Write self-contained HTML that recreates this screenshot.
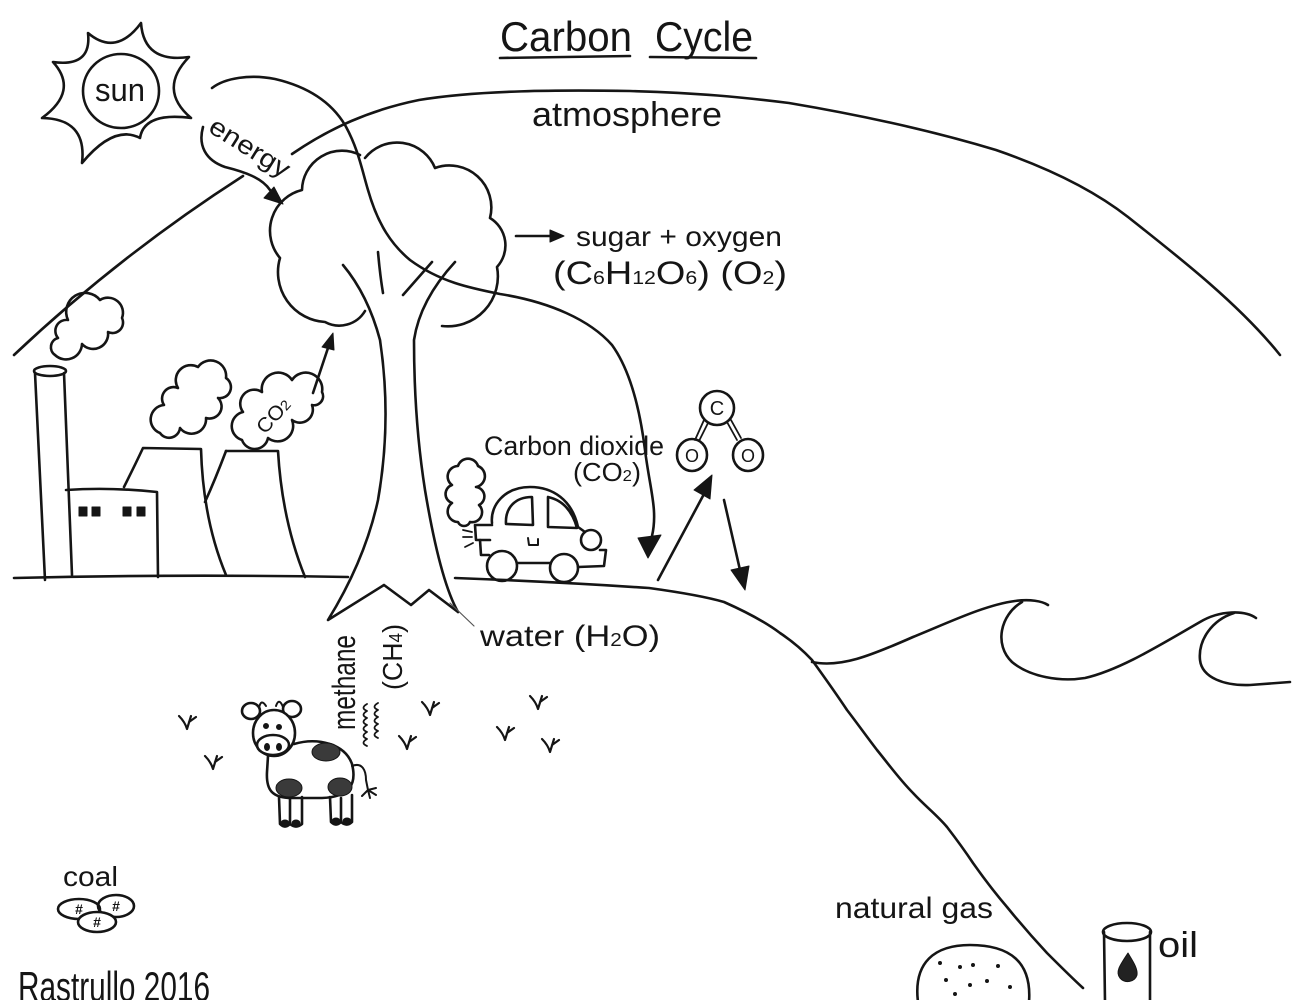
<!DOCTYPE html>
<html><head><meta charset="utf-8"><style>
html,body{margin:0;padding:0;background:#fff}
svg{display:block}
text{font-family:"Liberation Sans",sans-serif;fill:#151515}
</style></head><body>
<svg width="1294" height="1000" viewBox="0 0 1294 1000" xmlns="http://www.w3.org/2000/svg">
<rect width="1294" height="1000" fill="#fff"/>
<g fill="none" stroke="#151515" stroke-width="2.6" stroke-linecap="round" stroke-linejoin="round">
<!-- sun -->
<path d="M141,23 Q143.9,63.4 189,57 Q157.6,89.5 191,118 Q144.1,111.8 140,138 Q114.2,124.2 82,163 Q87.2,118.7 42,118 Q79.2,90.9 53,62 Q91.9,67.5 88,33 Q116.1,56.8 141,23 Z"/>
<ellipse cx="121" cy="91" rx="38" ry="37"/>
<!-- title underlines -->
<path d="M500,58 L630,56"/>
<path d="M650,57 L756,58"/>
<!-- atmosphere arc -->
<path d="M14,355 Q120,255 243,176"/>
<path d="M292,154 C330,128 370,110 419,100 C480,90 560,90 630,91 C700,93 740,97 789,103 C860,115 930,130 996,150 C1060,172 1100,195 1128,217 C1180,258 1240,305 1280,355"/>
<!-- big carbon flow arrow -->
<path d="M212,88 C225,78 250,74 275,79 C305,86 330,100 345,125 C358,148 362,170 368,190 C378,225 392,245 410,260 C440,282 470,288 500,294 C550,302 590,320 612,345 C630,370 640,410 645,450 C650,490 658,510 652,536"/>
<!-- energy bracket -->
<path d="M203,127 C198,145 205,160 225,167 C245,172 262,178 270,190"/>
<!-- canopy -->
<path d="M365,311 A30,30 0 0 1 325,322 A50,50 0 0 1 280,258 A42,42 0 0 1 302,190 A40,40 0 0 1 360,155"/>
<path d="M365,158 A41,41 0 0 1 435,168 A42,42 0 0 1 490,218 A32,32 0 0 1 497,267 A50,50 0 0 1 442,326"/>
<!-- trunk -->
<path d="M343,265 Q368,295 380,340 Q392,420 378,500 Q365,560 328,620 L384,585 L411,605 L429,590 L458,612"/>
<path d="M455,262 Q420,300 414,340 Q414,420 425,490 Q440,580 458,612"/>
<path d="M378,252 Q380,275 383,293"/>
<path d="M432,262 L403,295"/>
<path d="M450,603 L474,626" stroke-width="1.2" stroke="#555"/>
<!-- sugar arrow -->
<path d="M516,236 L552,236"/>
<!-- factory -->
<ellipse cx="50" cy="371" rx="16" ry="5"/>
<path d="M35,373 L45,580"/>
<path d="M64,373 L72,575"/>
<path d="M66,490 Q110,487 157,492 L158,577"/>
<path d="M124,487 Q135,465 143,448 L201,449 Q203,520 226,575"/>
<path d="M226,451 L278,451 Q282,520 305,577"/>
<path d="M226,451 Q215,480 205,502"/>
<path d="M14,578 Q180,574 348,577"/>
<!-- smoke clouds -->
<path d="M55,355 A9.5,9.5 0 0 1 58,338 A11,11 0 0 1 68,320 A19,19 0 0 1 100,300 A15,15 0 0 1 122,318 A10.5,10.5 0 0 1 108,332 A15,15 0 0 1 82,344 A16,16 0 0 1 55,355 Z"/>
<path d="M160,433 A14.5,14.5 0 0 1 164,405 A11.5,11.5 0 0 1 178,388 A15,15 0 0 1 198,367 A15.5,15.5 0 0 1 226,378 A11,11 0 0 1 218,398 A12,12 0 0 1 206,418 A14.5,14.5 0 0 1 180,428 A11,11 0 0 1 160,433 Z"/>
<path d="M242,440 A14.5,14.5 0 0 1 243,412 A14,14 0 0 1 262,392 A16.5,16.5 0 0 1 292,380 A16.5,16.5 0 0 1 322,392 A9,9 0 0 1 312,405 A13,13 0 0 1 292,420 A15.5,15.5 0 0 1 268,438 A13.5,13.5 0 0 1 242,440 Z"/>
<path d="M313,393 L328,348"/>
<!-- car cloud -->
<path d="M458,522 A10.5,10.5 0 0 1 452,503 A9.5,9.5 0 0 1 452,485 A10.5,10.5 0 0 1 458,466 A10.5,10.5 0 0 1 478,466 A11,11 0 0 1 476,487 A9.5,9.5 0 0 1 479,505 A10,10 0 0 1 470,522 A6.5,6.5 0 0 1 458,522 Z"/>
<!-- car -->
<path d="M492,523 C490,505 505,487 530,487 C553,487 572,500 578,527 L585,532"/>
<path d="M506,524 C505,508 515,497 532,497 L533,525 Z"/>
<path d="M548,497 L548,527 L577,528 C572,510 562,500 548,497 Z"/>
<path d="M492,525 L475,525 L476,540 L490,540"/>
<path d="M480,540 L481,555 L489,555"/>
<circle cx="591" cy="540" r="10"/>
<path d="M600,550 L606,550 L604,566 L578,567"/>
<path d="M517,563 L550,563"/>
<circle cx="502" cy="566" r="15"/>
<circle cx="564" cy="568" r="14"/>
<path d="M528,538 L529,545 L538,545 L538,539" stroke-width="2"/>
<path d="M463,530 L472,532 M463,537 L472,537 M465,547 L473,543" stroke-width="1.8"/>
<!-- right ground / hill -->
<path d="M455,578 Q560,582 649,588 Q700,595 724,602 Q760,618 780,633 Q798,645 812,660 C825,678 837,695 847,710 C857,723 867,737 877,750 C890,766 900,780 913,793 C925,806 937,815 947,827 C957,840 965,851 973,863 C985,880 995,893 1007,907 C1020,923 1033,938 1047,953 C1060,966 1072,978 1083,988"/>
<!-- waves -->
<path d="M812,662 C840,668 870,656 913,637 C950,622 985,605 1015,601 C1030,599 1042,601 1048,605"/>
<path d="M1022,602 C1000,615 994,645 1012,662 C1030,677 1060,682 1085,678 C1120,670 1160,645 1200,622 C1220,610 1245,610 1256,618"/>
<path d="M1234,613 C1212,620 1198,640 1200,660 C1202,678 1225,686 1250,685 L1290,682"/>
<!-- CO2 molecule -->
<circle cx="717" cy="408" r="17"/>
<ellipse cx="692" cy="455" rx="15" ry="16"/>
<ellipse cx="748" cy="455" rx="15" ry="16"/>
<path d="M704,420 L695,440 M708,423 L699,441" stroke-width="1.8"/>
<path d="M727,422 L737,440 M731,420 L741,438" stroke-width="1.8"/>
<!-- molecule arrows -->
<path d="M658,580 L704,494"/>
<path d="M724,500 L740,570"/>
<!-- methane squiggles -->
<path d="M367,746 q-7,-3 0,-7 q-7,-3 0,-7 q-7,-3 0,-7 q-7,-3 0,-7 q-7,-3 0,-7 q-7,-3 0,-7" stroke-width="1.8"/>
<path d="M378,738 q-7,-3 0,-7 q-7,-3 0,-7 q-7,-3 0,-7 q-7,-3 0,-7 q-7,-3 0,-7" stroke-width="1.8"/>
<!-- grass -->
<g stroke-width="2.2">
<path d="M179,716 Q185,722 187,729 L191,716 M189,722 L196,717"/>
<path d="M205,756 Q211,762 213,769 L217,756 M215,762 L222,757"/>
<path d="M422,702 Q428,708 430,715 L434,702 M432,708 L439,703"/>
<path d="M399,736 Q405,742 407,749 L411,736 M409,742 L416,737"/>
<path d="M530,696 Q536,702 538,709 L542,696 M540,702 L547,697"/>
<path d="M497,727 Q503,733 505,740 L509,727 M507,733 L514,728"/>
<path d="M542,739 Q548,745 550,752 L554,739 M552,745 L559,740"/>
</g>
<!-- cow -->
<path d="M294,744 C318,737 345,744 352,764 C357,784 350,797 322,798 L292,798 C272,798 266,790 267,772 L268,756"/>
<path d="M279,797 L280,824 Q285,829 290,824 L290,799 M290,824 Q296,829 302,824 L302,797"/>
<path d="M330,797 L331,822 Q336,827 341,822 L341,798 M341,822 Q347,827 352,822 L352,795"/>
<path d="M352,766 C362,762 366,770 366,780 L368,790 M368,790 L362,796 M368,790 L370,798 M368,790 L376,795 M368,790 L376,788" stroke-width="2"/>
<ellipse cx="251" cy="711" rx="9" ry="8"/>
<ellipse cx="292" cy="709" rx="9" ry="8"/>
<path d="M259,708 Q261,698 266,706 M276,706 Q279,697 283,707" stroke-width="2"/>
<ellipse cx="274" cy="733" rx="21" ry="23" fill="#fff"/>
<ellipse cx="273" cy="745" rx="16" ry="10" fill="#fff"/>
<!-- coal -->
<ellipse cx="79" cy="909" rx="21" ry="10"/>
<ellipse cx="116" cy="906" rx="18" ry="11"/>
<ellipse cx="97" cy="922" rx="19" ry="10" fill="#fff"/>
<!-- natural gas -->
<path d="M918,1002 C913,962 935,945 970,945 C1010,945 1032,962 1029,1002"/>
<!-- oil -->
<ellipse cx="1127" cy="932" rx="24" ry="9"/>
<path d="M1104,932 L1105,1002 M1150,932 L1150,1002"/>
</g>
<!-- filled bits -->
<g fill="#151515" stroke="#151515" stroke-width="1" stroke-linejoin="round">
<polygon points="638,538 661,535 648,558"/>
<polygon points="264,198 274,187 283,204"/>
<polygon points="550,230 564,236 550,242"/>
<polygon points="322,347 334,350 333,333"/>
<polygon points="694,490 710,499 712,475"/>
<polygon points="731,570 749,566 745,590"/>
<rect x="79" y="507" width="8" height="9"/>
<rect x="92" y="507" width="8" height="9"/>
<rect x="123" y="507" width="8" height="9"/>
<rect x="137" y="507" width="8" height="9"/>
<circle cx="266" cy="726" r="2.5"/>
<circle cx="279" cy="727" r="2.5"/>
<ellipse cx="267" cy="747" rx="2.5" ry="3.5"/>
<ellipse cx="279" cy="747" rx="2.5" ry="3.5"/>
<ellipse cx="326" cy="752" rx="14" ry="9" fill="#3a3a3a"/>
<ellipse cx="289" cy="788" rx="13" ry="9" fill="#3a3a3a"/>
<ellipse cx="340" cy="787" rx="12" ry="9" fill="#3a3a3a"/>
<ellipse cx="285" cy="823" rx="4" ry="3"/>
<ellipse cx="296" cy="823" rx="4" ry="3"/>
<ellipse cx="336" cy="821" rx="4" ry="3"/>
<ellipse cx="347" cy="821" rx="4" ry="3"/>
<path d="M1128,953 C1120,965 1115,972 1120,978 C1125,984 1135,982 1137,975 C1138,968 1132,960 1128,953 Z" fill="#222"/>
<circle cx="940" cy="963" r="1.5"/><circle cx="960" cy="967" r="1.5"/><circle cx="973" cy="965" r="1.5"/>
<circle cx="998" cy="966" r="1.5"/><circle cx="946" cy="980" r="1.5"/><circle cx="970" cy="985" r="1.5"/>
<circle cx="987" cy="981" r="1.5"/><circle cx="1010" cy="987" r="1.5"/><circle cx="955" cy="994" r="1.5"/>
</g>
<!-- text -->
<text x="500" y="51" font-size="42" textLength="132" lengthAdjust="spacingAndGlyphs">Carbon</text>
<text x="655" y="51" font-size="42" textLength="98" lengthAdjust="spacingAndGlyphs">Cycle</text>
<text x="95" y="101" font-size="32" textLength="50" lengthAdjust="spacingAndGlyphs">sun</text>
<text transform="translate(207,131) rotate(32)" font-size="26" textLength="90" lengthAdjust="spacingAndGlyphs">energy</text>
<text x="532" y="126" font-size="34" textLength="190" lengthAdjust="spacingAndGlyphs">atmosphere</text>
<text x="576" y="246" font-size="28" textLength="206" lengthAdjust="spacingAndGlyphs">sugar + oxygen</text>
<text x="553" y="284" font-size="32" textLength="234" lengthAdjust="spacingAndGlyphs">(C<tspan font-size="18">6</tspan>H<tspan font-size="18">12</tspan>O<tspan font-size="18">6</tspan>) (O<tspan font-size="18">2</tspan>)</text>
<text transform="translate(265,435) rotate(-48)" font-size="20" textLength="40" lengthAdjust="spacingAndGlyphs">CO<tspan font-size="14">2</tspan></text>
<text x="484" y="455" font-size="27" textLength="180" lengthAdjust="spacingAndGlyphs">Carbon dioxide</text>
<text x="573" y="481" font-size="26" textLength="68" lengthAdjust="spacingAndGlyphs">(CO<tspan font-size="16">2</tspan>)</text>
<text x="717" y="415" font-size="20" text-anchor="middle">C</text>
<text x="692" y="462" font-size="18" text-anchor="middle">O</text>
<text x="748" y="462" font-size="18" text-anchor="middle">O</text>
<text x="480" y="646" font-size="30" textLength="180" lengthAdjust="spacingAndGlyphs">water (H<tspan font-size="18">2</tspan>O)</text>
<text transform="translate(355,730) rotate(-90)" font-size="32" textLength="95" lengthAdjust="spacingAndGlyphs">methane</text>
<text transform="translate(402,690) rotate(-90)" font-size="28" textLength="66" lengthAdjust="spacingAndGlyphs">(CH<tspan font-size="18">4</tspan>)</text>
<text x="63" y="886" font-size="28" textLength="55" lengthAdjust="spacingAndGlyphs">coal</text>
<text x="79" y="914" font-size="14" font-weight="bold" text-anchor="middle">#</text>
<text x="116" y="911" font-size="14" font-weight="bold" text-anchor="middle">#</text>
<text x="97" y="927" font-size="14" font-weight="bold" text-anchor="middle">#</text>
<text x="835" y="918" font-size="30" textLength="158" lengthAdjust="spacingAndGlyphs">natural gas</text>
<text x="1158" y="957" font-size="36" textLength="40" lengthAdjust="spacingAndGlyphs">oil</text>
<text x="18" y="1001" font-size="42" textLength="192" lengthAdjust="spacingAndGlyphs">Rastrullo 2016</text>
</svg>
</body></html>
